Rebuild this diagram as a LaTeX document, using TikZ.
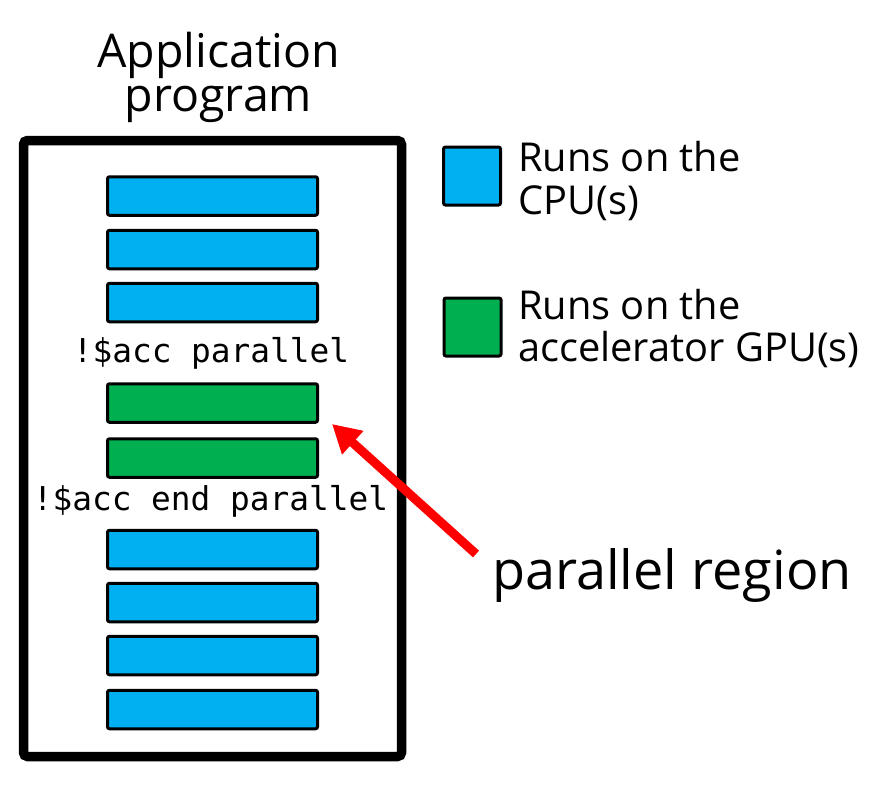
\documentclass[tikz,border=0pt]{standalone}
\usepackage{fontspec}
\setmainfont{Open Sans}
\setmonofont{DejaVu Sans Mono}
\usetikzlibrary{arrows.meta}
\definecolor{cpublue}{RGB}{0,176,240}
\definecolor{gpugreen}{RGB}{0,176,80}
\tikzstyle{bar}=[draw, line width=3pt, rounded corners=2pt, inner sep=0pt, minimum width=210pt, minimum height=38.5pt]
\tikzstyle{cpubar}=[bar, fill=cpublue]
\tikzstyle{gpubar}=[bar, fill=gpugreen]
\tikzstyle{key}=[draw, line width=3pt, rounded corners=2pt, inner sep=0pt, minimum width=57pt, minimum height=58pt]
\tikzstyle{keytext}=[anchor=west, inner sep=0pt, align=left, font=\fontsize{39.8}{42.5}\selectfont]
\tikzstyle{directive}=[anchor=base, inner sep=0pt, font=\ttfamily\fontsize{32.8}{36}\selectfont]
\newcommand{\cpubar}{\node[cpubar]}
\newcommand{\gpubar}{\node[gpubar]}

\begin{document}
\begin{tikzpicture}[x=1pt,y=-1pt]
\useasboundingbox (0,0) rectangle (886,787);
\node (title) at (218.5,77)[inner sep=0pt, align=center, font=\fontsize{46.5}{44}\selectfont]{Application\\program};
\node (prog) at (212.5,448.5)[draw, line width=9.5pt, rounded corners=4pt, minimum width=378pt, minimum height=616pt]{};
\cpubar (c1) at (212.5,196){};
\cpubar (c2) at (212.5,249.5){};
\cpubar (c3) at (212.5,302.5){};
\node (start) at (211,362)[directive]{!\$acc parallel};
\gpubar (g1) at (212.5,403){};
\gpubar (g2) at (212.5,458){};
\node (stop) at (210.5,510)[directive]{!\$acc end parallel};
\cpubar (c4) at (212.5,549.5){};
\cpubar (c5) at (212.5,602.5){};
\cpubar (c6) at (212.5,655.5){};
\cpubar (c7) at (212.5,709.5){};
\node (cpukey) at (472,176)[key, fill=cpublue]{};
\node (gpukey) at (472.5,327)[key, fill=gpugreen]{};
\node (cputext) at (518,181)[keytext]{Runs on the\\CPU(s)};
\node (gputext) at (518,328.5)[keytext]{Runs on the\\accelerator GPU(s)};
\node (region) at (492,589)[anchor=base west, inner sep=0pt, font=\fontsize{54}{60}\selectfont]{parallel region};
\coordinate (tail) at (476,554);
\coordinate (tip) at (332,424);
\draw[red, line width=9pt, -{Triangle[length=28pt,width=30pt]}] (tail)--(tip);
\end{tikzpicture}
\end{document}
